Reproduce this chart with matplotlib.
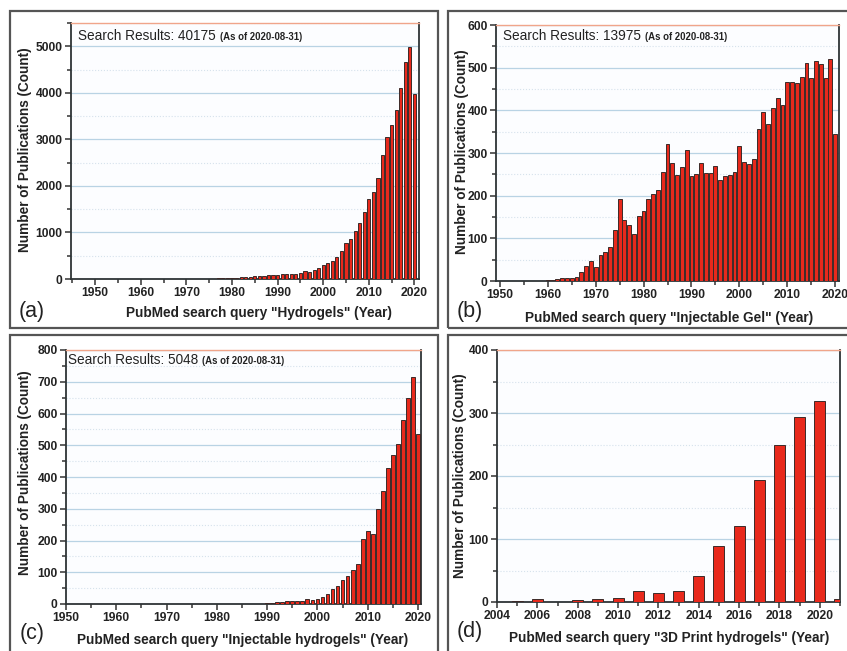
import matplotlib
matplotlib.use("Agg")
import matplotlib.pyplot as plt
from matplotlib.patches import Rectangle
from matplotlib.ticker import MultipleLocator

plt.rcParams['font.family'] = ['Liberation Sans', 'DejaVu Sans']

W, H = 847, 651

# (a) Hydrogels
years_a = list(range(1975, 2021))
counts_a = [5, 8, 12, 15, 20, 25, 30, 35, 45, 50, 60, 65, 70, 80, 90, 95,
            100, 105, 108, 115, 122, 180, 144, 201, 237, 295, 345, 396, 468, 612,
            763, 870, 1036, 1201, 1446, 1727, 1863, 2173, 2669, 3043, 3317, 3626,
            4100, 4662, 4990, 3975]

# (b) Injectable Gel
years_b = list(range(1957, 2021))
counts_b = [1, 1, 1, 2, 2, 5, 8, 8, 7, 10, 21, 36, 47, 33, 60, 67, 80, 120,
            192, 144, 131, 111, 152, 165, 192, 203, 213, 255, 322, 277, 248,
            268, 307, 247, 251, 277, 254, 253, 269, 236, 246, 249, 256, 316,
            279, 275, 286, 356, 395, 369, 405, 429, 412, 466, 466, 465, 477,
            510, 475, 516, 508, 476, 521, 345]

# (c) Injectable hydrogels
years_c = list(range(1990, 2021))
counts_c = [3, 4, 6, 5, 9, 11, 11, 10, 15, 14, 17, 23, 30, 48, 58, 76, 89, 108,
            126, 205, 231, 219, 298, 356, 427, 468, 504, 580, 648, 716, 534]

# (d) 3D Print hydrogels
years_d = list(range(2005, 2022))
counts_d = [1, 4, 0, 3, 5, 6, 18, 14, 18, 42, 89, 120, 193, 250, 294, 319, 5]

panels = [
    dict(x=years_a, y=counts_a, box=(10, 11, 438, 328), ax=(71, 23, 419, 279),
         xlim=(1944.7, 2021), ylim=(0, 5500), xmaj=10, xmin=5, ymaj=1000, ymin=500,
         width=0.7, total='40175', tpos=(78, 36),
         xlabel='PubMed search query "Hydrogels" (Year)', xl=(259, 313),
         yl=(25, 150), tag='(a)', tagpos=(32, 312)),
    dict(x=years_b, y=counts_b, box=(448, 11, 852, 328), ax=(496, 25, 839, 281),
         xlim=(1949.2, 2020.8), ylim=(0, 600), xmaj=10, xmin=5, ymaj=100, ymin=50,
         width=0.8, total='13975', tpos=(503, 36),
         xlabel='PubMed search query "Injectable Gel" (Year)', xl=(669, 318),
         yl=(462, 152), tag='(b)', tagpos=(470, 312)),
    dict(x=years_c, y=counts_c, box=(10, 335, 438, 656), ax=(66, 350, 421, 604),
         xlim=(1950, 2020.6), ylim=(0, 800), xmaj=10, xmin=5, ymaj=100, ymin=50,
         width=0.75, total='5048', tpos=(68, 360),
         xlabel='PubMed search query "Injectable hydrogels" (Year)', xl=(243, 640),
         yl=(25, 473), tag='(c)', tagpos=(32, 633)),
    dict(x=years_d, y=counts_d, box=(448, 335, 852, 656), ax=(497, 350, 840, 602),
         xlim=(2004, 2021), ylim=(0, 400), xmaj=2, xmin=1, ymaj=100, ymin=50,
         width=0.55, total=None, tpos=None,
         xlabel='PubMed search query "3D Print hydrogels" (Year)', xl=(669, 638),
         yl=(460, 476), tag='(d)', tagpos=(470, 632)),
]

fig = plt.figure(figsize=(W / 100, H / 100), dpi=100)
renderer = fig.canvas.get_renderer()


def fx(x):
    return x / W


def fy(y):
    return 1 - y / H


for p in panels:
    x0, y0, x1, y1 = p['box']
    fig.patches.append(Rectangle((fx(x0), fy(y1)), fx(x1 - x0), (y1 - y0) / H,
                                 transform=fig.transFigure, fill=False,
                                 edgecolor='#555555', linewidth=1.6))

    l, t, r, b = p['ax']
    ax = fig.add_axes([fx(l), fy(b), fx(r - l), (b - t) / H])
    ax.set_facecolor('#fcfdff')
    ax.bar(p['x'], p['y'], width=p['width'], color='#e8291c',
           edgecolor='#3b2a28', linewidth=0.7, zorder=3)
    ax.set_xlim(*p['xlim'])
    ax.set_ylim(*p['ylim'])
    ax.xaxis.set_major_locator(MultipleLocator(p['xmaj']))
    ax.xaxis.set_minor_locator(MultipleLocator(p['xmin']))
    ax.yaxis.set_major_locator(MultipleLocator(p['ymaj']))
    ax.yaxis.set_minor_locator(MultipleLocator(p['ymin']))
    ax.grid(which='major', axis='y', color='#b9d3e4', linewidth=0.9, zorder=0)
    ax.grid(which='minor', axis='y', color='#d6e2ec', linewidth=0.8,
            linestyle=':', zorder=0)
    ax.tick_params(which='both', direction='out', color='#333333', width=1.1,
                   top=False, right=False)
    ax.tick_params(which='major', length=4, labelsize=8.7, pad=2)
    ax.tick_params(which='minor', length=3)
    for lab in ax.get_xticklabels() + ax.get_yticklabels():
        lab.set_fontweight('bold')
        lab.set_color('#222222')
    for side in ['left', 'bottom', 'right']:
        ax.spines[side].set_color('#2e3436')
        ax.spines[side].set_linewidth(1.3)
    ax.spines['top'].set_color('#f0a58a')
    ax.spines['top'].set_linewidth(1.0)

    if p['total']:
        tx, ty = p['tpos']
        t1 = fig.text(fx(tx), fy(ty), 'Search Results: ' + p['total'],
                      fontsize=9.8, va='center', ha='left', color='#222222')
        bb = t1.get_window_extent(renderer)
        fig.text(fx(bb.x1 + 4), fy(ty + 1), '(As of 2020-08-31)',
                 fontsize=6.9, fontweight='bold', va='center', ha='left',
                 color='#222222')

    fig.text(fx(p['xl'][0]), fy(p['xl'][1]), p['xlabel'], fontsize=9.8,
             fontweight='bold', ha='center', va='center', color='#222222')
    fig.text(fx(p['yl'][0]), fy(p['yl'][1]), 'Number of Publications (Count)',
             fontsize=9.8, fontweight='bold', rotation=90, ha='center',
             va='center', color='#222222')
    fig.text(fx(p['tagpos'][0]), fy(p['tagpos'][1]), p['tag'], fontsize=15.5,
             ha='center', va='center', color='#222222')

fig.savefig('out.png', dpi=100)
